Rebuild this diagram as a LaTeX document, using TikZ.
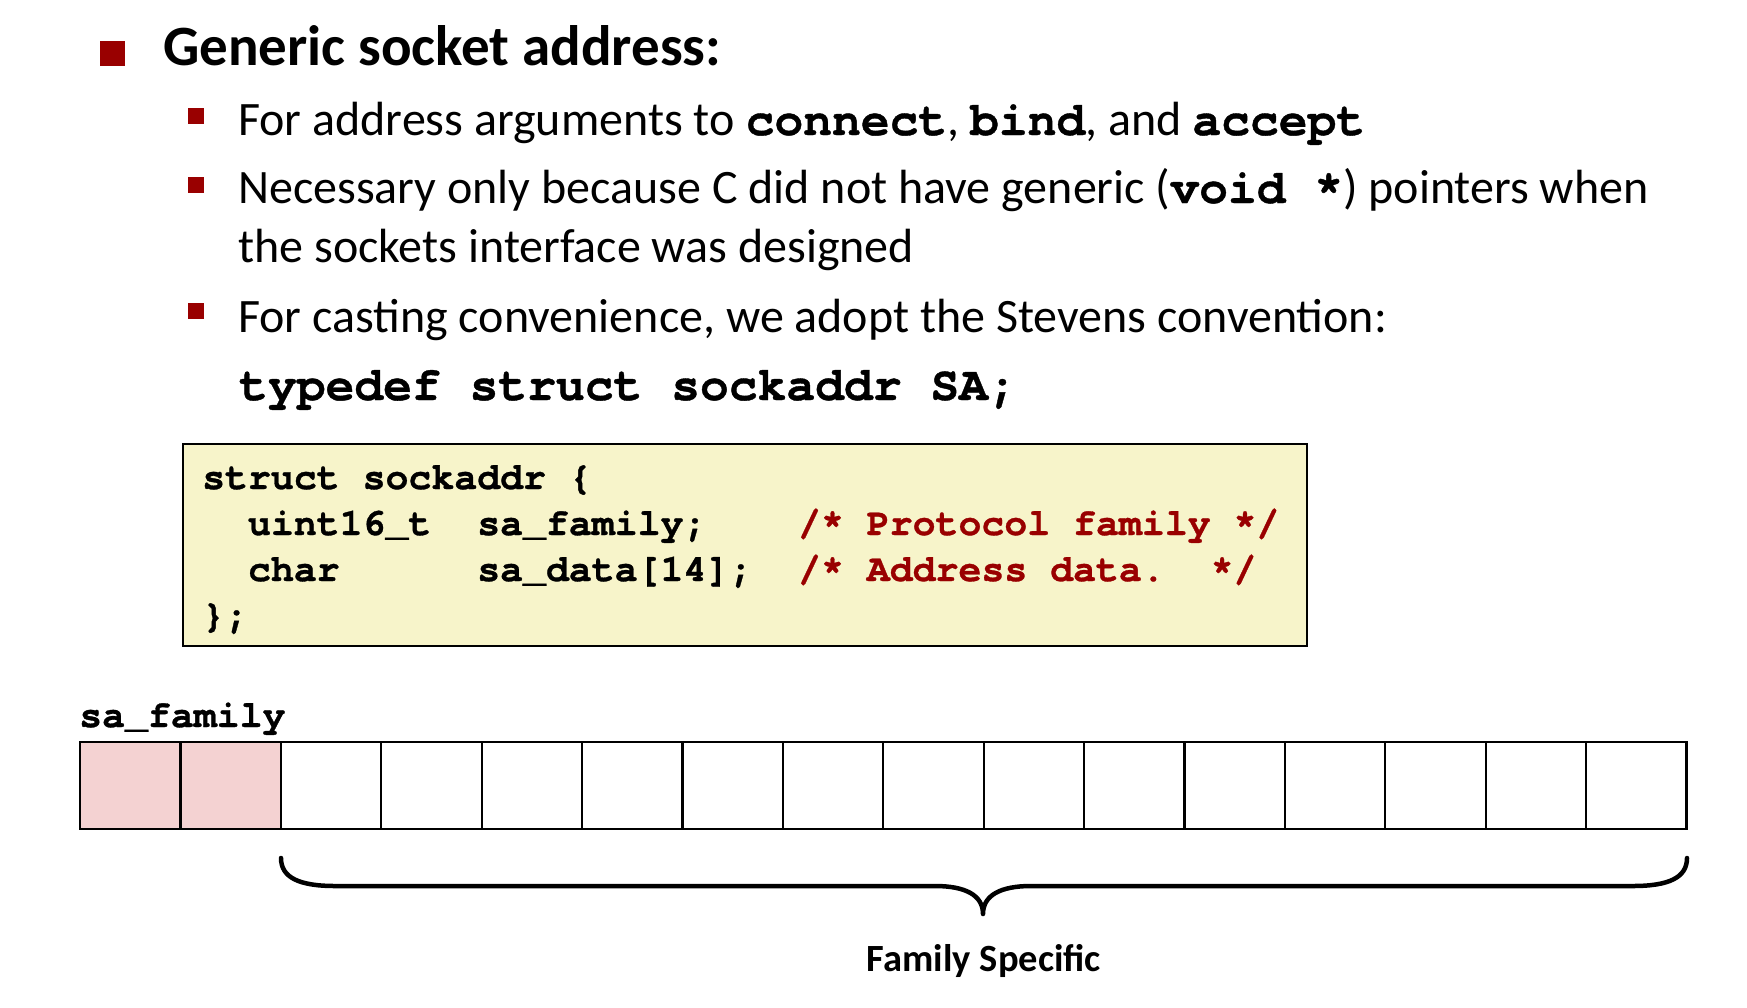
\documentclass[tikz,border=0pt]{standalone}
\usepackage{fontspec}
\setmainfont{Carlito}
\setmonofont{texgyrecursor}[Extension=.otf,UprightFont=*-bold,BoldFont=*-bold,FakeBold=0.8]
\definecolor{cmured}{HTML}{990000}
\definecolor{codebg}{HTML}{F7F4CA}
\definecolor{pinkcell}{HTML}{F4D2D2}
\newcommand{\mono}[1]{{\fontsize{48}{54}\selectfont\ttfamily\bfseries #1}}
\begin{document}
\begin{tikzpicture}[x=1pt,y=-1pt,
  bulsq/.style={fill=cmured,draw=none,inner sep=0pt,minimum size=16pt},
  titletxt/.style={anchor=base west,inner sep=0pt,font=\fontsize{57}{64}\selectfont\bfseries},
  txt/.style={anchor=base west,inner sep=0pt,font=\fontsize{48}{56}\selectfont},
  codeln/.style={anchor=base west,inner sep=0pt,font=\fontsize{38.2}{46}\selectfont\ttfamily\bfseries},
  cell/.style={draw=black,line width=2.2pt,minimum width=100.4pt,minimum height=87pt,inner sep=0pt},
  bracepath/.style={line width=4.5pt,line cap=round,line join=round}]
\useasboundingbox (0,0) rectangle (1747,1007);

% title
\node[bulsq,minimum size=25pt] (tb) at (112.5,53.5) {};
\node[titletxt] (title) at (163,65) {Generic socket address:};

% sub bullets
\node[bulsq] (b1) at (196,115.5) {};
\node[txt] (t1) at (238,135) {For address arguments to \mono{connect}, \mono{bind}, and \mono{accept}};
\node[bulsq] (b2) at (196,184.5) {};
\node[txt] (t2) at (238,203) {Necessary only because C did not have generic (\mono{void *}) pointers when};
\node[txt] (t2b) at (238,262) {the sockets interface was designed};
\node[bulsq] (b3) at (196,311) {};
\node[txt] (t3) at (238,332) {For casting convenience, we adopt the Stevens convention:};
\node[txt] (t4) at (239,400) {\mono{typedef struct sockaddr SA;}};

% code box
\node[draw=black,fill=codebg,line width=2pt,minimum width=1124pt,minimum height=202pt,inner sep=0pt,anchor=north west] (box) at (182,443) {};
\node[codeln] (c1) at (202,489) {struct~sockaddr~\{};
\node[codeln] (c2) at (202,535) {~~uint16\_t~~sa\_family;~~~~\textcolor{cmured}{/*~Protocol~family~*/}};
\node[codeln] (c3) at (202,581) {~~char~~~~~~sa\_data[14];~~\textcolor{cmured}{/*~Address~data.~~*/}};
\node[codeln] (c4) at (202,627) {\};};

% byte cells
\node[codeln] (lab) at (79,727) {sa\_family};
\foreach \i in {1,...,16}{
  \pgfmathsetmacro{\cx}{80+(\i-0.5)*100.4}
  \ifnum\i<3
    \node[cell,fill=pinkcell] (cell\i) at (\cx,785.5) {};
  \else
    \node[cell] (cell\i) at (\cx,785.5) {};
  \fi
}

% brace
\coordinate (bl) at (281,858);
\coordinate (br) at (1687,858);
\coordinate (tip) at (983,914);
\draw[bracepath] (bl) .. controls (281,878) and (300,886) .. (335,886)
  -- (935,886) .. controls (965,886) and (983,895) .. (tip)
  .. controls (983,895) and (1001,886) .. (1031,886)
  -- (1633,886) .. controls (1668,886) and (1687,878) .. (br);
\node[anchor=base,inner sep=0pt,font=\fontsize{38.5}{44}\selectfont\bfseries] (fs) at (984,971) {Family Specific};
\end{tikzpicture}
\end{document}
